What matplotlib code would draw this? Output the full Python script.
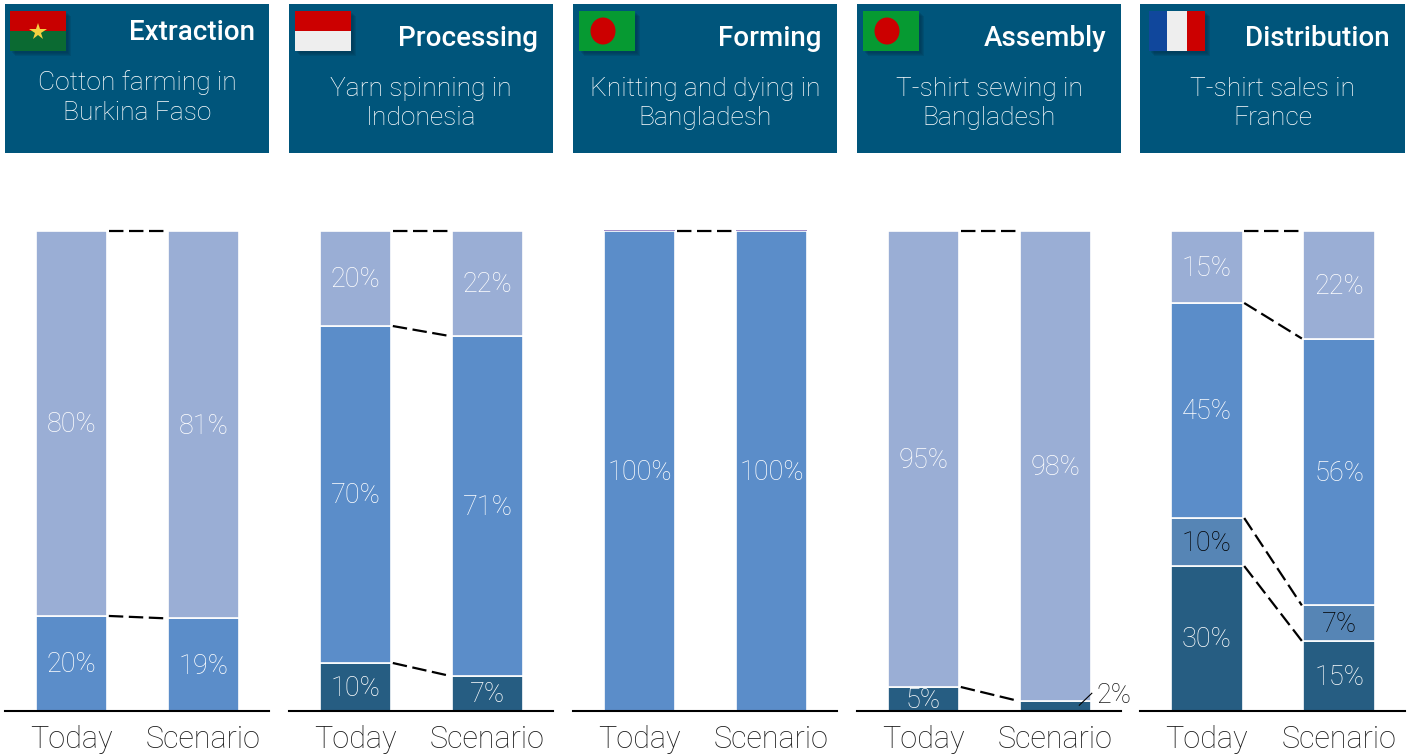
import matplotlib
matplotlib.use('Agg')
import matplotlib.pyplot as plt
from matplotlib.patches import Rectangle, Ellipse

plt.rcParams['font.family'] = ['Roboto', 'Liberation Sans', 'DejaVu Sans']
plt.rcParams['font.weight'] = 'light'

W, H = 1413, 755

titles = ['Extraction', 'Processing', 'Forming', 'Assembly', 'Distribution']
subtitles = ['Cotton farming in\nBurkina Faso', 'Yarn spinning in\nIndonesia',
             'Knitting and dying in\nBangladesh', 'T-shirt sewing in\nBangladesh',
             'T-shirt sales in\nFrance']
categories = ['Today', 'Scenario']

# shares from the bottom of each bar upwards
extraction_today = [19.8, 80.2]
extraction_scenario = [19.3, 80.7]
processing_today = [10, 70.2, 19.8]
processing_scenario = [7.3, 70.8, 21.9]
forming_today = [99.9, 0.4]
forming_scenario = [99.9, 0.4]
assembly_today = [5, 95]
assembly_scenario = [2.1, 97.9]
distribution_today = [30.2, 10, 44.8, 15]
distribution_scenario = [14.6, 7.4, 55.6, 22.4]

DARK = '#265d82'
STEEL = '#5685b5'
BLUE = '#5b8dc9'
LIGHT = '#9aaed5'
PURPLE = '#a48fc8'
HEADER = '#00557b'

panel_today = [extraction_today, processing_today, forming_today, assembly_today, distribution_today]
panel_scenario = [extraction_scenario, processing_scenario, forming_scenario, assembly_scenario, distribution_scenario]
panel_colors = [[BLUE, LIGHT], [DARK, BLUE, LIGHT], [BLUE, PURPLE], [DARK, LIGHT], [DARK, STEEL, BLUE, LIGHT]]
# percent labels that are black instead of white
black_labels = {(4, 0, 1), (4, 1, 1)}

panel_left = [5, 289, 573, 857, 1140]
panel_right = [269, 553, 837, 1121, 1405]
title_x = [255, 538, 822, 1106, 1390]
title_y = [32, 38, 38, 38, 38]
sub_y = [97, 103, 103, 103, 103]
flag_x = [10, 295, 579, 863, 1149]

fig = plt.figure(figsize=(W / 100, H / 100), dpi=100)

# header boxes and flags, in pixels
bg = fig.add_axes([0, 0, 1, 1])
bg.set_xlim(0, W)
bg.set_ylim(H, 0)
bg.axis('off')


def flag(i, parts):
    x, y, fw, fh = flag_x[i], 11, 56, 40
    for off in [5, 4, 3, 2]:
        bg.add_patch(Rectangle((x + off, y + off), fw, fh, color='#00324d', alpha=0.2, lw=0))
    for fx, fy, pw, ph, c in parts:
        bg.add_patch(Rectangle((x + fx * fw, y + fy * fh), pw * fw, ph * fh, color=c, lw=0))


for i in range(5):
    bg.add_patch(Rectangle((panel_left[i], 4), panel_right[i] - panel_left[i], 149, color=HEADER, lw=0))
    bg.text(title_x[i], title_y[i] + 0.5, titles[i], color='white', fontsize=20, fontweight='medium', ha='right', va='center')
    bg.text((panel_left[i] + panel_right[i]) / 2, sub_y[i] + 0.5, subtitles[i], color='white', fontsize=19,
            ha='center', va='center', linespacing=1.28)

flag(0, [(0, 0, 1, 0.5, '#c80000'), (0, 0.5, 1, 0.5, '#0b6a32')])
bg.plot([flag_x[0] + 28], [32], marker='*', ms=13, color='#f5d142', mew=0)
flag(1, [(0, 0, 1, 0.5, '#cc0000'), (0, 0.5, 1, 0.5, '#eeeeee')])
flag(2, [(0, 0, 1, 1, '#069a32')])
bg.add_patch(Ellipse((flag_x[2] + 24, 31), 25, 27, color='#cc0000', lw=0))
flag(3, [(0, 0, 1, 1, '#069a32')])
bg.add_patch(Ellipse((flag_x[3] + 24, 31), 25, 27, color='#cc0000', lw=0))
flag(4, [(0, 0, 0.33, 1, '#10479c'), (0.33, 0, 0.34, 1, '#eeeeee'), (0.67, 0, 0.33, 1, '#cc0000')])

# bar panels
bar_w = 0.545
for i in range(5):
    ax = fig.add_axes([panel_left[i] / W, (H - 711) / H, (panel_right[i] - panel_left[i]) / W, 480 / H])
    ax.patch.set_alpha(0)
    ax.set_xlim(-0.504, 1.496)
    ax.set_ylim(0, 100)
    for s in ['top', 'left', 'right']:
        ax.spines[s].set_visible(False)
    ax.spines['bottom'].set_linewidth(1.5)
    ax.spines['bottom'].set_color('black')
    ax.set_yticks([])
    ax.set_xticks([0, 1])
    ax.set_xticklabels(categories, fontsize=22, color='#1a1a1a')
    ax.tick_params(axis='x', length=0, pad=10)

    today = panel_today[i]
    scenario = panel_scenario[i]
    for k, vals in enumerate([today, scenario]):
        bottom = 0
        for j, v in enumerate(vals):
            thin = v < 1
            ax.bar(k, v, bar_w, bottom=bottom, color=panel_colors[i][j], clip_on=False,
                   edgecolor='none' if thin else 'white', linewidth=0 if thin else 1.2)
            if not thin and v > 3:
                c = 'black' if (i, k, j) in black_labels else 'white'
                ax.text(k, bottom + v / 2 - 0.3, f'{round(v)}%', color=c, fontsize=19.5, ha='center', va='center')
            bottom += v

    # dashed links between matching segment tops
    lev_a, lev_b = 0, 0
    for a, b in zip(today, scenario):
        lev_a += a
        lev_b += b
        if a < 1:
            continue
        ax.plot([bar_w / 2 + 0.01, 1 - bar_w / 2 - 0.01], [lev_a, lev_b], color='black', lw=1.6,
                dashes=(6.5, 2.5), clip_on=False)

    if i == 3:
        ax.plot([1.18, 1.275], [1.2, 3.7], color='black', lw=0.8, clip_on=False)
        ax.text(1.31, 3.3, f'{round(scenario[0])}%', fontsize=19.5, color='#1a1a1a', ha='left', va='center')

fig.savefig('out.png', dpi=100)
